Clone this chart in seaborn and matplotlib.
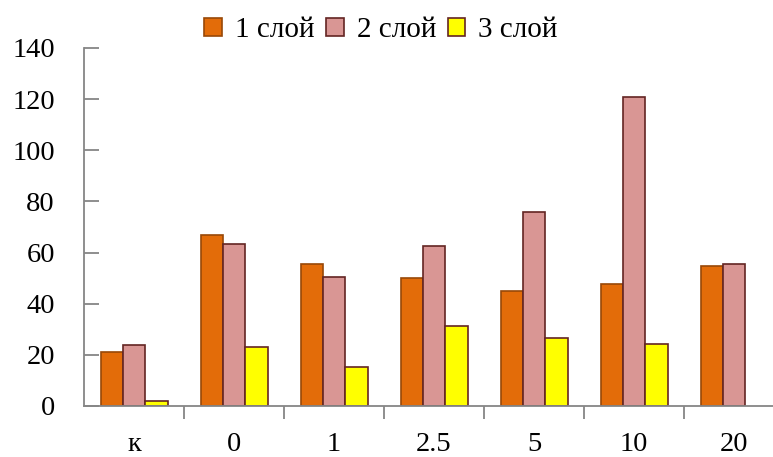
import numpy as np
import pandas as pd
import matplotlib
matplotlib.use("Agg")
import matplotlib.pyplot as plt
import seaborn as sns
from matplotlib.ticker import FixedLocator

categories = ["к", "0", "1", "2.5", "5", "10", "20"]
layer1 = [21, 67, 55.5, 50, 45, 47.7, 54.8]
layer2 = [24, 63.4, 50.5, 62.6, 76, 121, 55.4]
layer3 = [1.8, 23, 15.3, 31.3, 26.5, 24.4, np.nan]
series_names = ["1 слой", "2 слой", "3 слой"]

fills = ["#E36C09", "#D99694", "#FFFF00"]
edges = ["#984807", "#632523", "#632523"]

df = pd.DataFrame({
    "cat": categories * 3,
    "value": layer1 + layer2 + layer3,
    "series": sum([[s] * len(categories) for s in series_names], []),
})

sns.set_style("white")
plt.rcParams["font.family"] = ["Liberation Serif", "DejaVu Serif"]
plt.rcParams["text.color"] = "black"
plt.rcParams["xtick.color"] = "black"
plt.rcParams["ytick.color"] = "black"

fig = plt.figure(figsize=(7.73, 4.57), dpi=100)
ax = fig.add_axes([0.1087, 0.1116, 0.8913, 0.7834])

sns.barplot(data=df, x="cat", y="value", hue="series", order=categories,
            hue_order=series_names, palette=fills, width=0.67, gap=0,
            errorbar=None, ax=ax, legend=False, saturation=1)

for cont, ec in zip(ax.containers, edges):
    for bar in cont:
        bar.set_edgecolor(ec)
        bar.set_linewidth(1.2)

ax.set_ylim(0, 140)
ax.set_xlim(-0.5, 6.39)
ax.set_yticks(np.arange(0, 141, 20))
ax.set_xlabel("")
ax.set_ylabel("")

axis_grey = "#868686"
for side in ["top", "right"]:
    ax.spines[side].set_visible(False)
for side in ["left", "bottom"]:
    ax.spines[side].set_color(axis_grey)
    ax.spines[side].set_linewidth(1.3)

ax.tick_params(axis="y", which="major", length=11, width=1.3, color=axis_grey,
               direction="in", labelsize=20.5, pad=21, left=True,
               labelcolor="black")
ax.tick_params(axis="x", which="major", length=0, labelsize=20.5, pad=19,
               labelcolor="black")
ax.xaxis.set_minor_locator(FixedLocator(np.arange(0.5, 6.5, 1.0)))
ax.tick_params(axis="x", which="minor", length=9, width=1.3, color=axis_grey,
               direction="out", bottom=True)

handles = [plt.Rectangle((0, 0), 1, 1, facecolor=f, edgecolor=e, linewidth=1.2)
           for f, e in zip(fills, edges)]
fig.legend(handles, series_names, loc="upper center", bbox_to_anchor=(0.493, 1.02),
           ncol=3, frameon=False, fontsize=21, handlelength=0.6, handleheight=0.6,
           handletextpad=0.45, columnspacing=0.4)

fig.savefig("out.png", dpi=100)
